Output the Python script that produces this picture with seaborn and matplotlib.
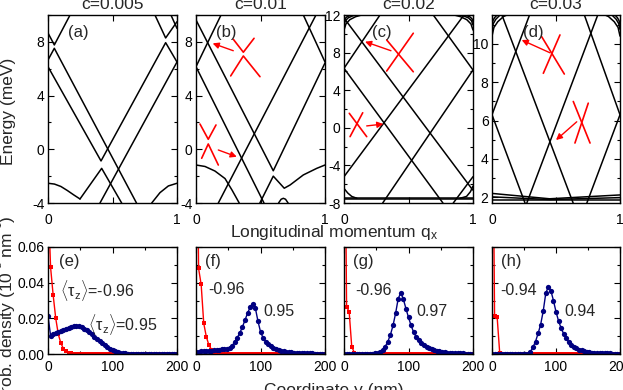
import matplotlib
matplotlib.use('Agg')
import matplotlib.pyplot as plt
import seaborn as sns
from matplotlib.ticker import MultipleLocator, FormatStrFormatter, NullFormatter

# ---------- data ----------
TITLES = ['c=0.005', 'c=0.01', 'c=0.02', 'c=0.03']
TOP_TAGS = ['(a)', '(b)', '(c)', '(d)']
BOT_TAGS = ['(e)', '(f)', '(g)', '(h)']
E_LIMS = [(-4, 10), (-4, 10), (-8, 12), (1.7, 11.5)]
TAU_EDGE = ['-0.96', '-0.96', '-0.96', '-0.94']
TAU_BULK = ['0.95', '0.95', '0.97', '0.94']

# band lines, each (q list, E list)
BANDS_A = [
    ([0, 0.049, 0.171], [8.66, 7.77, 10.0]),
    ([0, 0.049, 0.55, 0.686], [6.65, 7.52, -1.54, -4.0]),
    ([0, 0.411, 0.912, 1.0], [6.15, -0.87, 7.94, 6.5]),
    ([1.0, 0.403], [6.5, -4.0]),
    ([0.248, 0.416, 0.571], [-3.7, -1.42, -4.0]),
    ([0, 0.05, 0.10, 0.15, 0.20, 0.248], [-2.53, -2.59, -2.77, -3.07, -3.40, -3.70]),
    ([0.804, 0.868, 0.933, 1.0], [-4.0, -3.23, -2.73, -2.53]),
    ([0.829, 0.912, 1.0], [10.0, 8.29, 9.5]),
    ([0.953, 1.0], [10.0, 9.0]),
]
BANDS_B = [
    ([0, 0.599, 1.0], [9.63, -1.60, 6.43]),
    ([0, 0.194], [6.15, 10.0]),
    ([0, 0.527], [6.15, -4.0]),
    ([0.930, 0.173], [10.0, -4.0]),
    ([0.832, 1.0], [10.0, 6.5]),
    ([0.495, 0.599, 0.684, 0.729, 0.832, 0.936, 1.0], [-4.0, -2.0, -2.9, -2.66, -1.91, -1.42, -1.17]),
    ([0, 0.07, 0.147, 0.225, 0.28, 0.335], [-1.17, -1.28, -1.62, -2.18, -3.05, -4.0]),
    ([0.64, 0.66, 0.677, 0.694, 0.714], [-4.0, -3.72, -3.65, -3.72, -4.0]),
]
BANDS_C = [
    ([0, 0.767], [6.33, -8.0]),
    ([0, 0.930], [-5.2, 12.0]),
    ([0, 0.998], [11.68, -6.62]),
    ([1.0, 0.30], [6.15, -8.0]),
    ([0, 0.279], [6.33, 12.0]),
    ([0.692, 1.0], [12.0, 6.15]),
    ([1.0, 0.847], [-5.2, -8.0]),
    ([0, 1.0], [-7.48, -7.48]),
    ([0, 1.0], [-7.62, -7.62]),
    ([0, 0.03, 0.06, 0.10], [-6.45, -6.95, -7.30, -7.50]),
    ([0.90, 0.95, 0.98, 1.0], [-7.50, -7.30, -6.80, -6.20]),
    ([0, 0.007, 0.022, 0.043, 0.075], [11.29, 11.6, 11.8, 11.93, 12.05]),
    ([0, 0.011, 0.033, 0.066, 0.11], [10.94, 11.4, 11.7, 11.9, 12.05]),
    ([0, 0.015, 0.045, 0.09, 0.15], [10.4, 11.05, 11.5, 11.82, 12.05]),
    ([1.0, 0.992, 0.976, 0.952, 0.92], [11.29, 11.6, 11.8, 11.93, 12.05]),
    ([1.0, 0.988, 0.964, 0.928, 0.88], [10.94, 11.4, 11.7, 11.9, 12.05]),
    ([1.0, 0.984, 0.952, 0.904, 0.84], [10.4, 11.05, 11.5, 11.82, 12.05]),
]
BANDS_D = [
    ([0.076, 0.634], [11.53, 1.7]),
    ([0, 0.295], [6.3, 11.53]),
    ([0, 0.258], [6.3, 1.7]),
    ([0.272, 0.828], [1.7, 11.53]),
    ([0.72, 1.0], [11.53, 6.3]),
    ([1.0, 0.741], [6.3, 1.7]),
    ([0, 0.45, 1.0], [2.2, 1.92, 2.12]),
    ([0, 0.45, 1.0], [2.02, 1.88, 1.98]),
    ([0, 1.0], [1.85, 1.85]),
    ([0, 0.015, 0.045, 0.09, 0.15], [10.4, 10.85, 11.15, 11.42, 11.6]),
    ([0, 0.01, 0.03, 0.06, 0.10], [10.75, 11.05, 11.28, 11.48, 11.6]),
    ([0, 0.007, 0.02, 0.04, 0.065], [11.0, 11.2, 11.36, 11.5, 11.6]),
    ([1.0, 0.985, 0.955, 0.91, 0.85], [10.4, 10.85, 11.15, 11.42, 11.6]),
    ([1.0, 0.99, 0.97, 0.94, 0.90], [10.75, 11.05, 11.28, 11.48, 11.6]),
    ([1.0, 0.993, 0.98, 0.96, 0.935], [11.0, 11.2, 11.36, 11.5, 11.6]),
]
BANDS = [BANDS_A, BANDS_B, BANDS_C, BANDS_D]

# probability density vs coordinate y (nm)
Y_NM = list(range(0, 201, 4))
RED_E = [0.09, 0.0486, 0.033, 0.020, 0.011, 0.006, 0.003, 0.0015, 0.0008, 0.0004,
         0.0002, 0.0001] + [0.0] * 39
BLUE_E = [0.0213, 0.0103, 0.0112, 0.0118, 0.0123, 0.0128, 0.0133, 0.0138, 0.0145,
          0.0151, 0.0155, 0.0157, 0.0155, 0.0150, 0.0142, 0.0133, 0.0122, 0.0110,
          0.0097, 0.0086, 0.0072, 0.0059, 0.0048, 0.0038, 0.0029, 0.0021, 0.0015,
          0.0010, 0.0007, 0.0005, 0.0003, 0.0002, 0.0001] + [0.0] * 18
RED_F = [0.2, 0.048, 0.039, 0.0172, 0.0097, 0.005, 0.0025, 0.0012, 0.0006, 0.0003,
         0.0001] + [0.0] * 40
BLUE_F = [0.0013, 0.0014, 0.0015, 0.0016, 0.0017, 0.0018, 0.0019, 0.0021, 0.0023,
          0.0025, 0.0026, 0.0027, 0.0028, 0.0032, 0.0045, 0.0068, 0.0092, 0.0118,
          0.0152, 0.0190, 0.0230, 0.0262, 0.0278, 0.0258, 0.0185, 0.0125, 0.0090,
          0.0070, 0.0056, 0.0045, 0.0036, 0.0029, 0.0023, 0.0019, 0.0016, 0.0013,
          0.0011, 0.0009, 0.0008, 0.0007, 0.0006, 0.0005, 0.0004, 0.0004, 0.0003,
          0.0003, 0.0002, 0.0002, 0.0002, 0.0001, 0.0001]
RED_G = [0.2, 0.0265, 0.0237, 0.0041, 0.0008, 0.0002] + [0.0] * 45
BLUE_G = [0.0] * 12 + [0.0003, 0.0007, 0.0013, 0.0025, 0.0042, 0.0070, 0.0108, 0.0160,
                       0.0228, 0.0310, 0.0343, 0.0308, 0.0255, 0.0205, 0.0160, 0.0122,
                       0.0095, 0.0076, 0.0060, 0.0049, 0.0040, 0.0032, 0.0026, 0.0021,
                       0.0018, 0.0015, 0.0012, 0.0010, 0.0008, 0.0007, 0.0006, 0.0005,
                       0.0004, 0.0003, 0.0003, 0.0002, 0.0002, 0.0001, 0.0001]
RED_H = [0.2, 0.0213, 0.0209, 0.0008, 0.0002] + [0.0] * 46
BLUE_H = [0.0] * 14 + [0.0002, 0.0012, 0.0038, 0.0070, 0.0115, 0.0165, 0.0240, 0.0340,
                       0.0377, 0.0355, 0.0300, 0.0237, 0.0185, 0.0145, 0.0113, 0.0088,
                       0.0066, 0.0052, 0.0041, 0.0032, 0.0025, 0.0020, 0.0016, 0.0013,
                       0.0010, 0.0008, 0.0007, 0.0006, 0.0005, 0.0004, 0.0004, 0.0003,
                       0.0003, 0.0002, 0.0002, 0.0001, 0.0001]
REDS = [RED_E, RED_F, RED_G, RED_H]
BLUES = [BLUE_E, BLUE_F, BLUE_G, BLUE_H]

# ---------- style ----------
sns.set_style('ticks')
plt.rcParams['font.family'] = ['Liberation Sans', 'DejaVu Sans']
plt.rcParams['mathtext.fontset'] = 'custom'
plt.rcParams['mathtext.rm'] = 'Liberation Sans'
plt.rcParams['mathtext.it'] = 'Liberation Sans:italic'
plt.rcParams['axes.unicode_minus'] = False
plt.rcParams['axes.linewidth'] = 1.0
plt.rcParams['axes.edgecolor'] = 'black'

W, H = 623, 390
fig = plt.figure(figsize=(W / 100, H / 100), dpi=100)

lefts = [48, 196, 344, 492]
widths = [129, 129, 129, 128]


def px_axes(left, top, width, height):
    return fig.add_axes([left / W, 1 - (top + height) / H, width / W, height / H])


def style_ticks(ax, pad_x, pad_y):
    ax.tick_params(which='both', direction='in', top=True, right=True,
                   colors='black', labelsize=10, width=0.8)
    ax.tick_params(which='major', length=4.5)
    ax.tick_params(which='minor', length=2.2)
    ax.tick_params(axis='x', pad=pad_x)
    ax.tick_params(axis='y', pad=pad_y)


RED = '#ff0000'
NAVY = '#000080'

# red Dirac-cone sketches (axes fractions) and arrows (tail, head)
ICONS = {
    1: {'lines': [[(0.289, 0.871), (0.367, 0.802), (0.450, 0.876)],
                  [(0.269, 0.676), (0.367, 0.782), (0.496, 0.672)],
                  [(0.031, 0.420), (0.095, 0.339), (0.155, 0.415)],
                  [(0.044, 0.238), (0.095, 0.314), (0.173, 0.202)]],
        'arrows': [((0.289, 0.810), (0.129, 0.849)), ((0.173, 0.282), (0.316, 0.246))]},
    2: {'lines': [[(0.331, 0.867), (0.537, 0.698)], [(0.537, 0.903), (0.331, 0.702)],
                  [(0.041, 0.477), (0.176, 0.353)], [(0.145, 0.480), (0.047, 0.353)]],
        'arrows': [((0.364, 0.810), (0.163, 0.858)), ((0.176, 0.410), (0.305, 0.420))]},
    3: {'lines': [[(0.388, 0.885), (0.565, 0.686)], [(0.531, 0.894), (0.401, 0.690)],
                  [(0.635, 0.540), (0.766, 0.319)], [(0.752, 0.531), (0.648, 0.319)]],
        'arrows': [((0.453, 0.799), (0.232, 0.867)), ((0.662, 0.432), (0.500, 0.335))]},
}
TAG_X_TOP = [0.155, 0.155, 0.215, 0.24]

# ---------- top row: band structures ----------
for i in range(4):
    ax = px_axes(lefts[i], 15, widths[i], 188)
    for q, e in BANDS[i]:
        sns.lineplot(x=q, y=e, ax=ax, color='black', lw=1.1, sort=False,
                     estimator=None, legend=False)
    ax.set_xlim(0, 1)
    ax.set_ylim(*E_LIMS[i])
    ax.set_xticks([0, 0.5, 1])
    ax.set_xticklabels(['0', '', '1'])
    if i < 3:
        ax.yaxis.set_major_locator(MultipleLocator(4))
        ax.yaxis.set_minor_locator(MultipleLocator(2))
    else:
        ax.yaxis.set_major_locator(MultipleLocator(2))
        ax.yaxis.set_minor_locator(MultipleLocator(1))
    ax.set_xlabel('')
    ax.set_ylabel('')
    style_ticks(ax, 7, 2.5)
    ax.set_title(TITLES[i], fontsize=12.5, pad=4)
    ax.text(TAG_X_TOP[i], 0.905, TOP_TAGS[i], transform=ax.transAxes,
            fontsize=12, ha='left', va='center')
    if i in ICONS:
        for pts in ICONS[i]['lines']:
            ax.plot([p[0] for p in pts], [p[1] for p in pts], color=RED, lw=1.2,
                    transform=ax.transAxes)
        for tail, head in ICONS[i]['arrows']:
            ax.annotate('', xy=head, xytext=tail, xycoords='axes fraction',
                        textcoords='axes fraction',
                        arrowprops=dict(arrowstyle='-|>', color=RED, lw=1.0,
                                        mutation_scale=9, shrinkA=0, shrinkB=0))

# ---------- bottom row: probability densities ----------
TAG_X_BOT = [0.088, 0.07, 0.072, 0.068]
EDGE_POS = [(0.093, 0.598), (0.095, 0.605), (0.085, 0.598), (0.068, 0.598)]
BULK_POS = [(0.312, 0.28), (0.522, 0.395), (0.558, 0.395), (0.565, 0.395)]
for i in range(4):
    ax = px_axes(lefts[i], 247, widths[i], 107)
    sns.lineplot(x=Y_NM, y=REDS[i], ax=ax, color=RED, lw=1.0, marker='s',
                 markersize=3.2, markeredgewidth=0, sort=False, estimator=None,
                 legend=False)
    sns.lineplot(x=Y_NM, y=BLUES[i], ax=ax, color=NAVY, lw=1.0, marker='o',
                 markersize=3.8, markeredgewidth=0, sort=False, estimator=None,
                 legend=False)
    ax.set_xlim(0, 200)
    ax.set_ylim(0, 0.06)
    ax.xaxis.set_major_locator(MultipleLocator(100))
    ax.xaxis.set_minor_locator(MultipleLocator(50))
    ax.yaxis.set_major_locator(MultipleLocator(0.02))
    ax.yaxis.set_minor_locator(MultipleLocator(0.01))
    if i == 0:
        ax.yaxis.set_major_formatter(FormatStrFormatter('%.2f'))
    else:
        ax.yaxis.set_major_formatter(NullFormatter())
    ax.set_xlabel('')
    ax.set_ylabel('')
    style_ticks(ax, 4.5, 2.5)
    ax.text(TAG_X_BOT[i], 0.863, BOT_TAGS[i], transform=ax.transAxes,
            fontsize=12, ha='left', va='center')
    if i == 0:
        edge_txt = r'$\langle\mathrm{\tau}_\mathrm{z}\rangle$=' + TAU_EDGE[i]
        bulk_txt = r'$\langle\mathrm{\tau}_\mathrm{z}\rangle$=' + TAU_BULK[i]
    else:
        edge_txt = TAU_EDGE[i]
        bulk_txt = TAU_BULK[i]
    ax.text(*EDGE_POS[i], edge_txt, transform=ax.transAxes, fontsize=11.5,
            ha='left', va='center')
    ax.text(*BULK_POS[i], bulk_txt, transform=ax.transAxes, fontsize=11.5,
            ha='left', va='center')

# ---------- shared labels ----------
fig.text(13.5 / W, 1 - 111 / H, 'Energy (meV)', rotation=90, rotation_mode='anchor',
         ha='center', va='baseline', fontsize=12.5)
fig.text(12.5 / W, 1 - 310 / H, r'Prob. density (10$^{^\mathrm{-2}}$ nm$^{^\mathrm{-1}}$)',
         rotation=90, rotation_mode='anchor', ha='center', va='baseline', fontsize=12.5)
fig.text(334 / W, 1 - 237 / H, r'Longitudinal momentum q$_\mathrm{x}$',
         ha='center', va='baseline', fontsize=12.5)
fig.text(334 / W, 1 - 395.5 / H, 'Coordinate y (nm)',
         ha='center', va='baseline', fontsize=12.5)

fig.savefig('out.png', dpi=100)
